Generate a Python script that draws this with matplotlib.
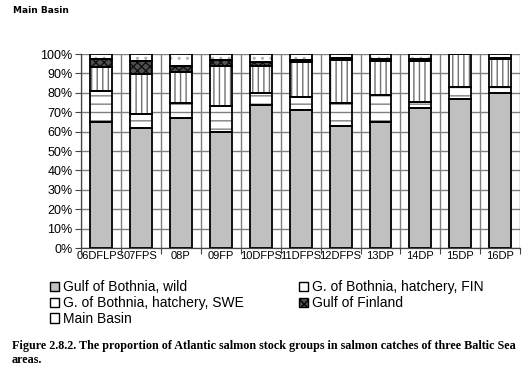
import matplotlib
matplotlib.use('Agg')
import matplotlib.pyplot as plt
from matplotlib.patches import Patch

# data (percent of catch)
years = ['06DFLPS', '07FPS', '08P', '09FP', '10DFPS', '11DFPS',
         '12DFPS', '13DP', '14DP', '15DP', '16DP']
wild = [65, 62, 67, 60, 74, 71, 63, 65, 72, 77, 80]
fin = [16, 7, 8, 13, 6, 7, 12, 14, 3.5, 6, 3]
swe = [12.5, 20.5, 16, 21, 14, 18, 22, 17.5, 21, 17, 14.5]
gof = [4, 7, 2.8, 3, 2, 1, 0.8, 1, 1, 0, 0.3]
main = [100 - a - b - c - d for a, b, c, d in zip(wild, fin, swe, gof)]

labels = ['Gulf of Bothnia, wild', 'G. of Bothnia, hatchery, FIN',
          'G. of Bothnia, hatchery, SWE', 'Gulf of Finland', 'Main Basin']

plt.rcParams['font.family'] = ['Liberation Sans', 'DejaVu Sans']
plt.rcParams['hatch.linewidth'] = 1.0

fig = plt.figure(figsize=(5.28, 3.68), dpi=100)
ax = fig.add_axes([0.1534, 0.326, 0.832, 0.527])

x = list(range(len(years)))
w = 0.55

# (values, facecolor, hatch, hatch colour)
series = [
    (wild, '#c0c0c0', None, '#c0c0c0'),
    (fin, 'white', '--', '#808080'),
    (swe, 'white', '|||', '#707070'),
    (gof, '#505050', 'xxxx', '#111111'),
    (main, 'white', '..', '#b0b0b0'),
]

bottom = [0.0] * len(years)
for vals, fc, hatch, hc in series:
    ax.bar(x, vals, w, bottom=bottom, color=fc, hatch=hatch,
           edgecolor=hc, linewidth=0, zorder=2)
    ax.bar(x, vals, w, bottom=bottom, fill=False, edgecolor='black',
           linewidth=1.3, zorder=3)
    bottom = [b + v for b, v in zip(bottom, vals)]

ax.set_xlim(-0.5, len(years) - 0.5)
ax.set_ylim(0, 100)
ax.set_yticks(range(0, 101, 10))
ax.set_yticklabels(['%d%%' % v for v in range(0, 101, 10)], fontsize=9)
ax.set_xticks(x)
ax.set_xticklabels(years, fontsize=8)
ax.tick_params(axis='x', length=0, pad=2)
ax.set_xticks([i - 0.5 for i in range(len(years) + 1)], minor=True)
ax.tick_params(axis='x', which='minor', length=4, width=0.8, color='#444444')
ax.tick_params(axis='y', length=4, width=0.8, color='#444444', pad=2)

ax.grid(axis='y', color='#808080', linewidth=1.0, zorder=0)
ax.grid(axis='x', which='minor', color='#808080', linewidth=1.0, zorder=0)
ax.set_axisbelow(True)
for s in ['top', 'right']:
    ax.spines[s].set_visible(False)
for s in ['left', 'bottom']:
    ax.spines[s].set_color('#444444')
    ax.spines[s].set_linewidth(0.9)

# legend swatches (the reference shows SWE and Main Basin as plain boxes)
legend_hatch = [None, '-', None, 'xxxx', None]
handles = []
for (vals, fc, hatch, hc), lab, lh in zip(series, labels, legend_hatch):
    handles.append(Patch(facecolor=fc, edgecolor='black', hatch=lh,
                         linewidth=1.0, label=lab))
order = [0, 2, 4, 1, 3]
fig.legend([handles[i] for i in order], [labels[i] for i in order],
           loc='upper left', bbox_to_anchor=(0.094, 0.238), ncol=2,
           frameon=False, fontsize=10, handlelength=0.65, handleheight=0.65,
           handletextpad=0.3, columnspacing=3.95, labelspacing=0.12,
           borderaxespad=0, borderpad=0)

fig.text(0.025, 0.985, 'Main Basin', fontsize=6.5, fontweight='bold',
         family='DejaVu Sans', va='top', ha='left')
fig.text(0.022, 0.006,
         'Figure 2.8.2. The proportion of Atlantic salmon stock groups in '
         'salmon catches of three Baltic Sea\nareas.',
         fontsize=8.7, fontweight='bold', family=['Liberation Serif'],
         va='bottom', ha='left', linespacing=1.25)

fig.savefig('out.png', dpi=100)
